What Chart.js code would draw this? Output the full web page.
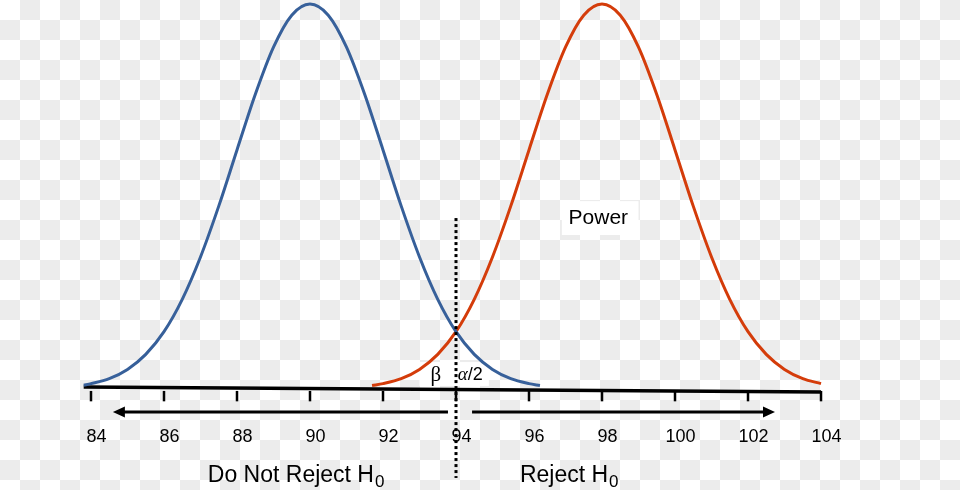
<!DOCTYPE html>
<html>
<head>
<meta charset="utf-8">
<script src="https://cdn.jsdelivr.net/npm/chart.js@4.4.1/dist/chart.umd.min.js"></script>
<style>
  html, body { margin: 0; padding: 0; }
  body {
    width: 960px; height: 490px; overflow: hidden;
    background: repeating-conic-gradient(#ececec 0 25%, #ffffff 0 50%) 0 0 / 40px 40px;
  }
  #wrap { position: relative; width: 960px; height: 490px; }
</style>
</head>
<body>
<div id="wrap"><canvas id="powerChart"></canvas></div>
<script>
// curva H0 (azul), centrada en 90
const nullX = [83.8, 84, 84.5, 85, 85.5, 86, 86.5, 87, 87.5, 88, 88.5, 89, 89.5, 90,
               90.5, 91, 91.5, 92, 92.5, 93, 93.5, 94, 94.5, 95, 95.5, 96, 96.3];
const nullY = [1.0, 1.4, 2.7, 5.1, 9.0, 14.9, 23.3, 34.3, 47.5, 62.1, 76.5, 88.8, 97.1, 100,
               97.1, 88.8, 76.5, 62.1, 47.5, 34.3, 23.3, 14.9, 9.0, 5.1, 2.7, 1.4, 0.9];

// curva alternativa (roja), centrada en 98
const altX = [91.7, 92, 92.5, 93, 93.5, 94, 94.5, 95, 95.5, 96, 96.5, 97, 97.5, 98,
              98.5, 99, 99.5, 100, 100.5, 101, 101.5, 102, 102.5, 103, 103.5, 104];
const altY = [0.9, 1.4, 2.7, 5.1, 9.0, 14.9, 23.3, 34.3, 47.5, 62.1, 76.5, 88.8, 97.1, 100,
              97.1, 88.8, 76.5, 62.1, 47.5, 34.3, 23.3, 14.9, 9.0, 5.1, 2.7, 1.4];

const tickValues = [84, 86, 88, 90, 92, 94, 96, 98, 100, 102, 104];
const tickLabels = ['84', '86', '88', '90', '92', '94', '96', '98', '100', '102', '104'];
const criticalValue = 94;

const FONT = '"Liberation Sans", Arial, Helvetica, sans-serif';
const SERIF = '"Liberation Serif", "Times New Roman", serif';
const toPoints = (xs, ys) => xs.map((x, i) => ({ x: x, y: ys[i] }));

// dibuja eje, flechas, línea crítica y textos
const annotations = {
    id: 'annotations',
    beforeDatasetsDraw(chart) {
        const ctx = chart.ctx;
        const X = v => chart.scales.x.getPixelForValue(v);
        const Y = v => chart.scales.y.getPixelForValue(v);
        ctx.save();
        ctx.fillStyle = '#ffffff';
        ctx.fillRect(X(96.9), Y(48.8), X(99.0) - X(96.9), Y(40.0) - Y(48.8));
        ctx.fillRect(X(93.0), Y(7.0), X(94.9) - X(93.0), Y(0.8) - Y(7.0));
        ctx.restore();
    },
    afterDatasetsDraw(chart) {
        const ctx = chart.ctx;
        const X = v => chart.scales.x.getPixelForValue(v);
        const Y = v => chart.scales.y.getPixelForValue(v);
        ctx.save();

        // marcas del eje
        ctx.strokeStyle = '#000';
        ctx.lineWidth = 2.5;
        tickValues.forEach(t => {
            ctx.beginPath();
            ctx.moveTo(X(t), Y(-0.5));
            ctx.lineTo(X(t), Y(-3.2));
            ctx.stroke();
        });

        // flechas
        const arrowY = Y(-6.0);
        ctx.lineWidth = 3;
        ctx.beginPath();
        ctx.moveTo(X(93.78), arrowY);
        ctx.lineTo(X(84.6) + 8, arrowY);
        ctx.moveTo(X(94.44), arrowY);
        ctx.lineTo(X(102.74) - 8, arrowY);
        ctx.stroke();
        ctx.fillStyle = '#000';
        ctx.beginPath();
        ctx.moveTo(X(84.6), arrowY);
        ctx.lineTo(X(84.6) + 12, arrowY - 5.5);
        ctx.lineTo(X(84.6) + 12, arrowY + 5.5);
        ctx.closePath();
        ctx.fill();
        ctx.beginPath();
        ctx.moveTo(X(102.74), arrowY);
        ctx.lineTo(X(102.74) - 12, arrowY - 5.5);
        ctx.lineTo(X(102.74) - 12, arrowY + 5.5);
        ctx.closePath();
        ctx.fill();

        // etiquetas de las marcas
        ctx.font = '18px ' + FONT;
        ctx.textAlign = 'center';
        ctx.textBaseline = 'middle';
        tickValues.forEach((t, i) => {
            ctx.fillText(tickLabels[i], X(t + 0.15), Y(-12.5));
        });

        // textos
        ctx.font = '21px ' + FONT;
        ctx.fillText('Power', X(97.9), Y(44.4));
        ctx.font = '21px ' + SERIF;
        ctx.fillText('β', X(93.45), Y(3.6));
        ctx.textAlign = 'left';
        ctx.font = 'italic 19px ' + SERIF;
        ctx.fillText('α', X(94.05), Y(3.6));
        const aw = ctx.measureText('α').width;
        ctx.font = '18px ' + FONT;
        ctx.fillText('/2', X(94.05) + aw, Y(3.6));

        const drawH0 = (label, left) => {
            ctx.textBaseline = 'alphabetic';
            ctx.textAlign = 'left';
            ctx.font = '23px ' + FONT;
            const base = Y(-24.2);
            ctx.fillText(label, X(left), base);
            const w = ctx.measureText(label).width;
            ctx.font = '17px ' + FONT;
            ctx.fillText('0', X(left) + w + 1, base + 5);
        };
        drawH0('Do Not Reject H', 87.2);
        drawH0('Reject H', 95.75);

        // línea crítica punteada
        ctx.lineWidth = 3;
        ctx.setLineDash([3, 3]);
        ctx.beginPath();
        ctx.moveTo(X(criticalValue), Y(44.4));
        ctx.lineTo(X(criticalValue), Y(-23.1));
        ctx.stroke();
        ctx.restore();
    }
};

new Chart(document.getElementById('powerChart').getContext('2d'), {
    type: 'scatter',
    data: {
        datasets: [
            {
                data: toPoints(nullX, nullY),
                showLine: true,
                borderColor: '#37609a',
                borderWidth: 3,
                pointRadius: 0,
                cubicInterpolationMode: 'monotone',
                clip: false
            },
            {
                data: toPoints(altX, altY),
                showLine: true,
                borderColor: '#d43c0a',
                borderWidth: 3,
                pointRadius: 0,
                cubicInterpolationMode: 'monotone',
                clip: false
            },
            {
                // línea base del eje (ligeramente inclinada)
                data: [{ x: 83.8, y: 0.5 }, { x: 104, y: -0.8 }],
                showLine: true,
                borderColor: '#000',
                borderWidth: 3.5,
                pointRadius: 0,
                clip: false
            }
        ]
    },
    options: {
        responsive: true,
        maintainAspectRatio: false,
        animation: false,
        events: [],
        layout: { padding: 0 },
        plugins: { legend: { display: false }, tooltip: { enabled: false } },
        scales: {
            x: { type: 'linear', display: false, min: 81.507, max: 107.808 },
            y: { type: 'linear', display: false, min: -26.23, max: 101.04 }
        }
    },
    plugins: [annotations]
});
</script>
</body>
</html>
